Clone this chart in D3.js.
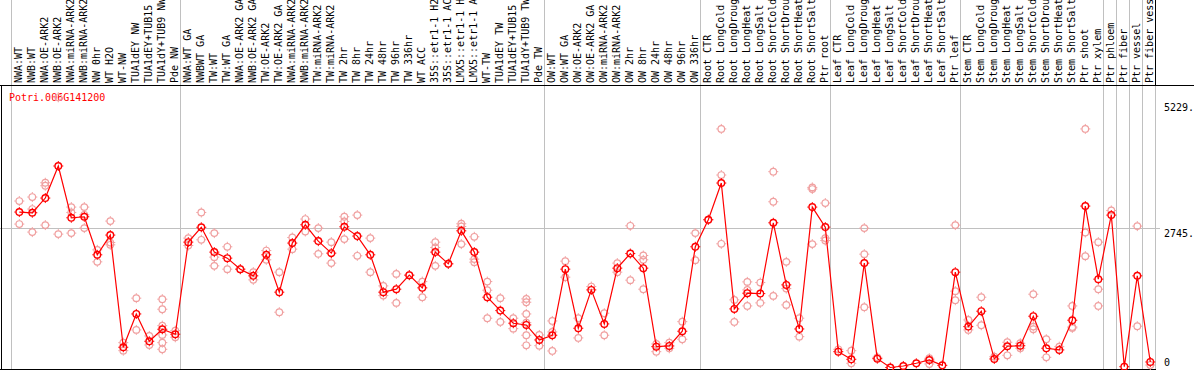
<!DOCTYPE html>
<head>
    <meta charset="utf-8">
    <script src="https://cdnjs.cloudflare.com/ajax/libs/d3/7.8.5/d3.min.js" charset="utf-8"></script>
    <style>
        html, body {
            margin: 0px;
            padding: 0px;
            background: #fff;
        }
        svg {
            display: block;
        }
        text {
            font-family: "DejaVu Sans Mono", monospace;
            font-size: 10px;
        }
    </style>
</head>

<body>
<svg id="chart1" width="1194" height="370"></svg>

<script>
var geneName = "Potri.006G141200";

var samples = [
    "NWA:WT", "NWB:WT", "NWA:OE-ARK2", "NWB:OE-ARK2", "NWA:miRNA-ARK2", "NWB:miRNA-ARK2",
    "NW 0hr", "WT H2O", "WT-NW", "TUA1dEY NW", "TUA1dEY+TUB15 NW", "TUA1dY+TUB9 NW", "Pde NW",
    "NWA:WT GA", "NWBWT GA", "TW:WT", "TW:WT GA", "NWA:OE-ARK2 GA", "NWB:OE-ARK2 GA",
    "TW:OE-ARK2", "TW:OE-ARK2 GA", "NWA:miRNA-ARK2", "NWB:miRNA-ARK2", "TW:miRNA-ARK2",
    "TW:miRNA-ARK2 ", "TW 2hr", "TW 8hr", "TW 24hr", "TW 48hr", "TW 96hr", "TW 336hr", "WT ACC",
    "35S::etr1-1 H2O", "35S::etr1-1 ACC", "LMX5::etr1-1 H2O", "LMX5::etr1-1 ACC", "WT-TW",
    "TUA1dEY TW", "TUA1dEY+TUB15 TW", "TUA1dY+TUB9 TW", "Pde TW",
    "OW:WT", "OW:WT GA", "OW:OE-ARK2", "OW:OE-ARK2 GA", "OW:miRNA-ARK2", "OW:miRNA-ARK2 ",
    "OW 2hr", "OW 8hr", "OW 24hr", "OW 48hr", "OW 96hr", "OW 336hr",
    "Root CTR", "Root LongCold", "Root LongDrought", "Root LongHeat", "Root LongSalt",
    "Root ShortCold", "Root ShortDrought", "Root ShortHeat", "Root ShortSalt", "Ptr root",
    "Leaf CTR", "Leaf LongCold", "Leaf LongDrought", "Leaf LongHeat", "Leaf LongSalt",
    "Leaf ShortCold", "Leaf ShortDrought", "Leaf ShortHeat", "Leaf ShortSalt", "Ptr leaf",
    "Stem CTR", "Stem LongCold", "Stem LongDrought", "Stem LongHeat", "Stem LongSalt",
    "Stem ShortCold", "Stem ShortDrought", "Stem ShortHeat", "Stem ShortSalt", "Ptr shoot",
    "Ptr xylem", "Ptr phloem", "Ptr fiber", "Ptr vessel", "Ptr fiber vessel"
];

// mean expression per sample
var means = [
    3065, 3051, 3341, 3973, 2952, 2972, 2222, 2611, 399, 1056, 517, 754, 656,
    2472, 2765, 2275, 2156, 1939, 1807, 2222, 1485, 2453, 2814, 2492, 2255, 2774, 2591, 2222,
    1485, 1544, 1821, 1570, 2275, 2044, 2695, 2275, 1386, 1122, 873, 839, 543,
    636, 1939, 774, 1530, 859, 1959, 2247, 1959, 411, 425, 715, 2380,
    2913, 3637, 1155, 1465, 1457, 2853, 1629, 760, 3163, 2768,
    312, 162, 2058, 174, 0, 30, 83, 148, 43, 1880,
    806, 1110, 168, 419, 430, 1011, 379, 346, 932, 3183,
    1742, 3005, 16, 1807, 109
];

// individual replicates per sample
var replicates = [
    [3282, 2828], [3361, 3124, 2670], [3643, 3584, 2808], [5328, 2630], [3163, 3057, 2650],
    [3163, 3011, 2749], [2320, 2083], [2887, 2464, 2419], [490, 332], [1367, 741], [622, 444],
    [1347, 1149, 825, 642, 490, 359], [727, 596],
    [2551, 2405], [3057, 2518], [2650, 2176, 2004], [2380, 1939], [1939], [1880, 1728],
    [2306, 2123], [1880, 1090], [2563, 2334], [2927, 2682], [2749, 2241], [2472, 2058],
    [2972, 2879, 2532], [3005, 2202], [2551, 1880], [1609, 1418], [1846, 1274], [1821],
    [1694, 1386], [2472, 2366, 2004], [2044], [2834, 2780, 2433], [2577, 2137, 2077],
    [1694, 1524, 972], [1367, 898], [972, 766], [1353, 1287, 1056, 885, 636, 438], [642, 430],
    [918, 701, 326], [2097, 1781], [972, 583], [1596], [1070, 636], [2058, 1880], [2794, 1722],
    [2208, 2123, 1544], [464, 312], [490, 379], [904, 557], [2650, 2117],
    [2913], [4704, 3795, 2439], [1333, 898], [1688, 1530, 1214], [1675, 1274], [3861, 3268, 1412],
    [2083, 1556, 1234], [972, 608], [3551, 3519, 2433], [3242, 2551, 2504],
    [359], [332, 83], [2749, 2235, 1189], [201], [], [], [], [182, 69], [], [2808, 1505, 1327],
    [938, 741], [1386, 833], [213], [498, 241], [478, 379], [1445, 806, 754], [557, 201], [411],
    [1214, 800, 780], [4704, 2662, 2196],
    [2472, 1544, 1214], [3096], [], [2788, 814], [49]
];

// index of the first sample of each group (last entry closes the plot)
var groupStarts = [0, 13, 41, 53, 63, 73, 84, 85, 86, 87, 88];

var yTicks = [5229, 2745, 0];
var yTickLabels = ["5229.", "2745.", "0"];

var svg = d3.select('#chart1');

var x = d3.scaleBand()
    .domain(d3.range(samples.length))
    .range([10.5, 10.5 + 13 * samples.length]);

var y = d3.scaleLinear()
    .domain([0, 5229])
    .range([367.5, 102.3]);

var ptX = function(i) { return x(i) + 8.8; };

// separators between groups
svg.append('g').selectAll('line')
    .data(groupStarts)
    .enter().append('line')
    .attr('x1', function(k) { return Math.round(k < samples.length ? x(k) : x.range()[1]) + 0.5; })
    .attr('x2', function(k) { return Math.round(k < samples.length ? x(k) : x.range()[1]) + 0.5; })
    .attr('y1', 0)
    .attr('y2', 369)
    .style('stroke', '#c0c0c0');

// 2745 grid line
svg.append('line')
    .attr('x1', 0).attr('x2', 1160)
    .attr('y1', Math.round(y(2745)) + 0.5)
    .attr('y2', Math.round(y(2745)) + 0.5)
    .style('stroke', '#c0c0c0');

// frame
svg.append('line').attr('x1', 0).attr('x2', 1194).attr('y1', 85.5).attr('y2', 85.5).style('stroke', '#000');
svg.append('line').attr('x1', 1.5).attr('x2', 1.5).attr('y1', 85).attr('y2', 370).style('stroke', '#000');
svg.append('line').attr('x1', 0).attr('x2', 1156).attr('y1', 369.5).attr('y2', 369.5).style('stroke', '#000');
svg.append('line').attr('x1', 1155.5).attr('x2', 1155.5).attr('y1', 0).attr('y2', 85).style('stroke', '#000');

// sample labels
svg.append('g').selectAll('text')
    .data(samples)
    .enter().append('text')
    .attr('transform', function(d, i) { return 'translate(' + (x(i) + 8.2) + ',83) rotate(-90)'; })
    .attr('dominant-baseline', 'central')
    .text(function(d) { return d; });

// right axis labels
svg.append('g').selectAll('text')
    .data(yTicks)
    .enter().append('text')
    .attr('x', 1164)
    .attr('y', function(d, i) { return i < 2 ? y(d) + 9 : y(d) - 2; })
    .text(function(d, i) { return yTickLabels[i]; });

svg.append('text')
    .attr('x', 9)
    .attr('y', 101)
    .style('fill', '#ff0000')
    .text(geneName);

function marker(g, cx, cy, color, w) {
    g.append('circle')
        .attr('cx', cx).attr('cy', cy).attr('r', 3.3)
        .style('fill', 'none').style('stroke', color).style('stroke-width', w);
    g.append('path')
        .attr('d', 'M' + cx + ',' + (cy - 5) + 'v1.5M' + cx + ',' + (cy + 3.5) + 'v1.5M' +
            (cx - 5) + ',' + cy + 'h1.5M' + (cx + 3.5) + ',' + cy + 'h1.5')
        .style('stroke', color).style('stroke-width', 1);
}

// replicates
var reps = svg.append('g');
replicates.forEach(function(list, i) {
    list.forEach(function(v) { marker(reps, ptX(i), y(v), '#f0a0a0', 1.2); });
});

// mean line
var line = d3.line()
    .x(function(d, i) { return ptX(i); })
    .y(function(d) { return y(d); });

svg.append('path')
    .datum(means)
    .attr('d', line)
    .style('fill', 'none')
    .style('stroke', '#ff0000')
    .style('stroke-width', 1.2);

var dots = svg.append('g');
means.forEach(function(v, i) { marker(dots, ptX(i), y(v), '#ff0000', 1.4); });
</script>

</body>
</html>
